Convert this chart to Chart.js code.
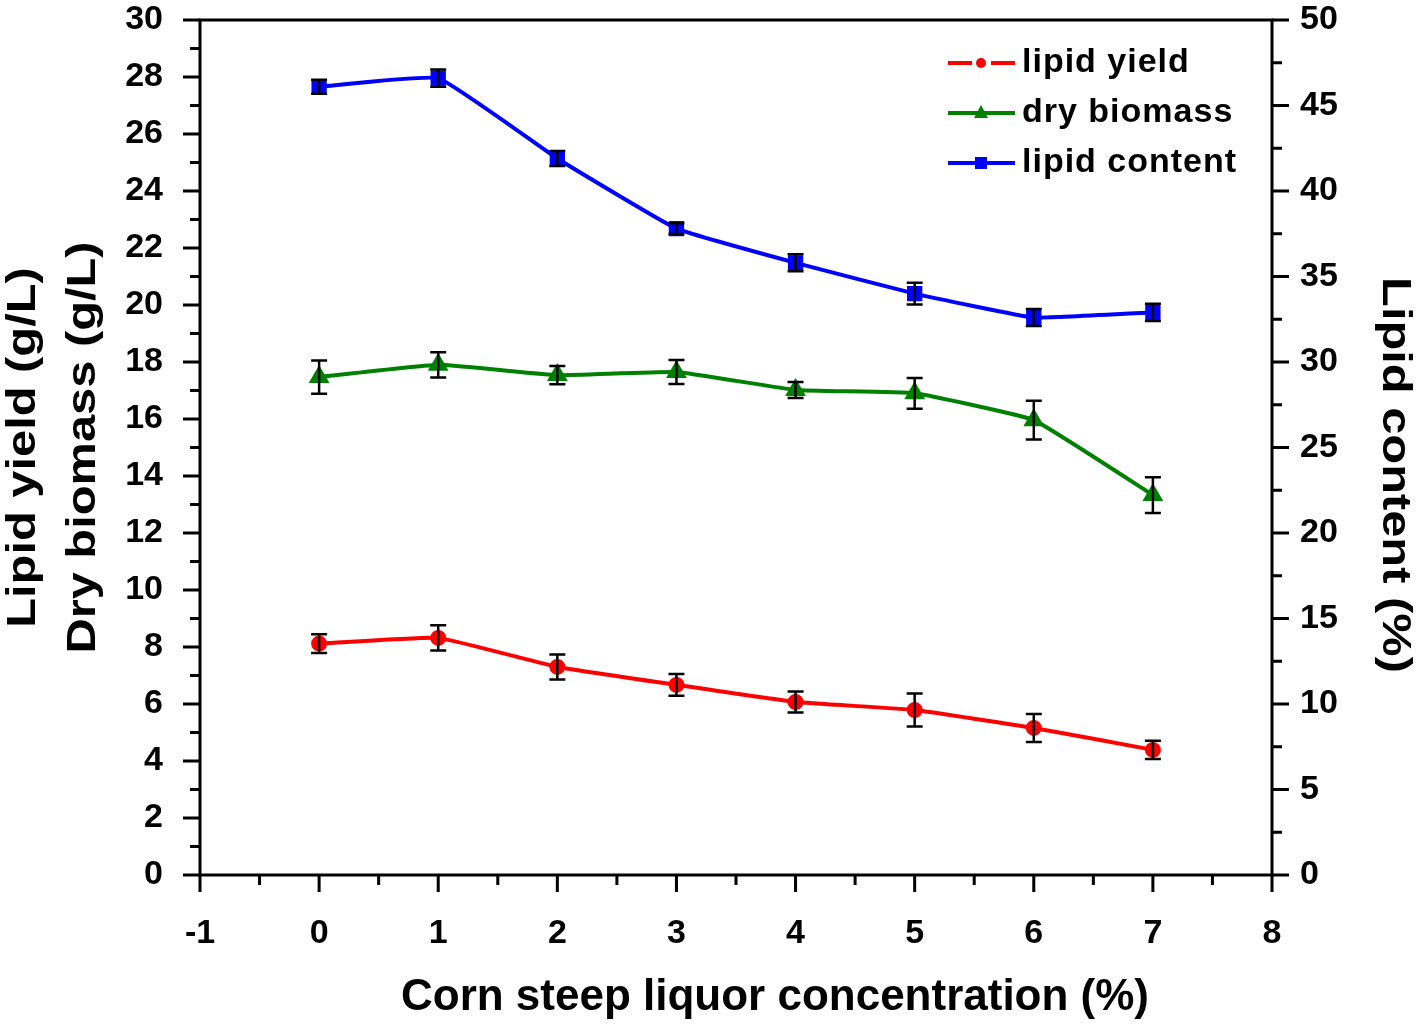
<!DOCTYPE html>
<html>
<head>
<meta charset="utf-8">
<script src="https://cdn.jsdelivr.net/npm/chart.js@4.4.1/dist/chart.umd.min.js"></script>
<style>
  html, body { margin: 0; padding: 0; background: #fff; }
  #wrap { width: 1416px; height: 1026px; }
</style>
</head>
<body>
<div id="wrap"><canvas id="chart" width="1416" height="1026"></canvas></div>
<script>
// Data
const concentrations = [0, 1, 2, 3, 4, 5, 6, 7];
const lipidYield = [8.12, 8.32, 7.3, 6.67, 6.07, 5.79, 5.16, 4.39];
const lipidYieldErr = [0.33, 0.44, 0.44, 0.38, 0.37, 0.58, 0.49, 0.32];
const dryBiomass = [17.47, 17.9, 17.54, 17.65, 17.02, 16.9, 15.96, 13.33];
const dryBiomassErr = [0.58, 0.44, 0.32, 0.42, 0.28, 0.54, 0.68, 0.63];
const lipidContent = [46.1, 46.6, 41.9, 37.8, 35.8, 34.0, 32.6, 32.9];
const lipidContentErr = [0.41, 0.5, 0.44, 0.32, 0.5, 0.64, 0.5, 0.5];

const seriesNames = ['lipid yield', 'dry biomass', 'lipid content'];
const xTitle = 'Corn steep liquor concentration (%)';
const leftTitles = ['Lipid yield (g/L)', 'Dry biomass (g/L)'];
const rightTitle = 'Lipid content (%)';

const FONT = '"Liberation Sans", Arial, sans-serif';

function toPoints(xs, ys) {
    return xs.map((x, i) => ({ x: x, y: ys[i] }));
}

// no extra label overflow padding, so the plot area sits where the figure has it
function noPad(s) {
    s.paddingTop = 0;
    s.paddingBottom = 0;
    s.paddingLeft = 0;
    s.paddingRight = 0;
}

// rotated title, stretched along its length like the figure's
function drawRotated(ctx, text, x, y, angle) {
    ctx.save();
    ctx.translate(x, y);
    ctx.rotate(angle);
    ctx.scale(1.22, 1);
    ctx.fillText(text, 0, 0);
    ctx.restore();
}

// Ticks (major + minor), frame, error bars, titles and legend
const decorPlugin = {
    id: 'decor',
    afterDatasetsDraw(chart) {
        const ctx = chart.ctx;
        ctx.save();
        ctx.strokeStyle = '#000';
        ctx.lineWidth = 2.5;
        chart.data.datasets.forEach((ds, di) => {
            const meta = chart.getDatasetMeta(di);
            const yScale = chart.scales[ds.yAxisID];
            ds.data.forEach((p, i) => {
                const err = ds.errors[i];
                const px = meta.data[i].x;
                const top = yScale.getPixelForValue(p.y + err);
                const bot = yScale.getPixelForValue(p.y - err);
                ctx.beginPath();
                ctx.moveTo(px, top); ctx.lineTo(px, bot);
                ctx.moveTo(px - 8, top); ctx.lineTo(px + 8, top);
                ctx.moveTo(px - 8, bot); ctx.lineTo(px + 8, bot);
                ctx.stroke();
            });
        });
        ctx.restore();
    },
    afterDraw(chart) {
        const ctx = chart.ctx;
        const area = chart.chartArea;
        const xs = chart.scales.x, yl = chart.scales.y, yr = chart.scales.y2;
        ctx.save();
        ctx.strokeStyle = '#000';
        ctx.lineWidth = 3;

        // frame
        ctx.strokeRect(area.left, area.top, area.right - area.left, area.bottom - area.top);

        // left axis ticks
        ctx.beginPath();
        for (let v = 0; v <= 30; v += 1) {
            const py = yl.getPixelForValue(v);
            const len = v % 2 === 0 ? 17 : 10;
            ctx.moveTo(area.left, py); ctx.lineTo(area.left - len, py);
        }
        // right axis ticks
        for (let v = 0; v <= 50; v += 2.5) {
            const py = yr.getPixelForValue(v);
            const len = v % 5 === 0 ? 17 : 10;
            ctx.moveTo(area.right, py); ctx.lineTo(area.right + len, py);
        }
        // bottom ticks
        for (let v = -1; v <= 8; v += 0.5) {
            const px = xs.getPixelForValue(v);
            const len = Number.isInteger(v) ? 17 : 10;
            ctx.moveTo(px, area.bottom); ctx.lineTo(px, area.bottom + len);
        }
        ctx.stroke();

        // axis titles
        ctx.fillStyle = '#000';
        ctx.font = 'bold 44px ' + FONT;
        ctx.textAlign = 'center';
        ctx.textBaseline = 'middle';
        ctx.fillText(xTitle, 775, 998);

        ctx.font = 'bold 40px ' + FONT;
        const midY = (area.top + area.bottom) / 2;
        drawRotated(ctx, leftTitles[0], 24, midY, -Math.PI / 2);
        drawRotated(ctx, leftTitles[1], 84, midY, -Math.PI / 2);
        drawRotated(ctx, rightTitle, 1394, 475, Math.PI / 2);

        // legend
        ctx.font = 'bold 34px ' + FONT;
        ctx.textAlign = 'left';
        ctx.letterSpacing = '1px';
        chart.data.datasets.forEach((ds, i) => {
            const ly = 63 + i * 50;
            ctx.strokeStyle = ds.borderColor;
            ctx.fillStyle = ds.borderColor;
            ctx.lineWidth = 4;
            ctx.beginPath();
            if (i === 0) {
                ctx.moveTo(948, ly); ctx.lineTo(972, ly);
                ctx.moveTo(991, ly); ctx.lineTo(1015, ly);
            } else {
                ctx.moveTo(948, ly); ctx.lineTo(1015, ly);
            }
            ctx.stroke();
            ctx.beginPath();
            if (ds.pointStyle === 'circle') {
                ctx.arc(981, ly, 5, 0, Math.PI * 2);
            } else if (ds.pointStyle === 'triangle') {
                ctx.moveTo(981, ly - 8); ctx.lineTo(988, ly + 5); ctx.lineTo(974, ly + 5);
                ctx.closePath();
            } else {
                ctx.rect(975, ly - 6, 12, 12);
            }
            ctx.fill();
            ctx.fillStyle = '#000';
            ctx.fillText(seriesNames[i], 1022, ly);
        });
        ctx.restore();
    }
};

const tickFont = { family: FONT, size: 34, weight: 'bold' };

new Chart(document.getElementById('chart'), {
    type: 'line',
    data: {
        datasets: [
            {
                label: seriesNames[0],
                data: toPoints(concentrations, lipidYield),
                errors: lipidYieldErr,
                yAxisID: 'y',
                borderColor: '#ff0000',
                backgroundColor: '#ff0000',
                borderWidth: 4,
                pointStyle: 'circle',
                pointRadius: 6,
                tension: 0.1
            },
            {
                label: seriesNames[1],
                data: toPoints(concentrations, dryBiomass),
                errors: dryBiomassErr,
                yAxisID: 'y',
                borderColor: '#008000',
                backgroundColor: '#008000',
                borderWidth: 4,
                pointStyle: 'triangle',
                pointRadius: 8,
                tension: 0.1
            },
            {
                label: seriesNames[2],
                data: toPoints(concentrations, lipidContent),
                errors: lipidContentErr,
                yAxisID: 'y2',
                borderColor: '#0000ff',
                backgroundColor: '#0000ff',
                borderWidth: 4,
                pointStyle: 'rect',
                pointRadius: 8,
                tension: 0.1
            }
        ]
    },
    options: {
        responsive: false,
        animation: false,
        layout: { padding: { top: 20, left: 0, right: 0, bottom: 0 } },
        plugins: {
            legend: { display: false },
            tooltip: { enabled: false }
        },
        scales: {
            x: {
                type: 'linear',
                position: 'bottom',
                min: -1,
                max: 8,
                afterFit: s => { s.height = 151; noPad(s); },
                ticks: { stepSize: 1, color: '#000', font: tickFont, padding: 38, maxRotation: 0 },
                grid: { display: false, drawTicks: false },
                border: { display: false }
            },
            y: {
                position: 'left',
                min: 0,
                max: 30,
                afterFit: s => { s.width = 200; noPad(s); },
                ticks: { stepSize: 2, color: '#000', font: tickFont, padding: 37 },
                grid: { display: false, drawTicks: false },
                border: { display: false }
            },
            y2: {
                position: 'right',
                min: 0,
                max: 50,
                afterFit: s => { s.width = 144; noPad(s); },
                ticks: { stepSize: 5, color: '#000', font: tickFont, padding: 28 },
                grid: { display: false, drawTicks: false },
                border: { display: false }
            }
        }
    },
    plugins: [decorPlugin]
});
</script>
</body>
</html>
